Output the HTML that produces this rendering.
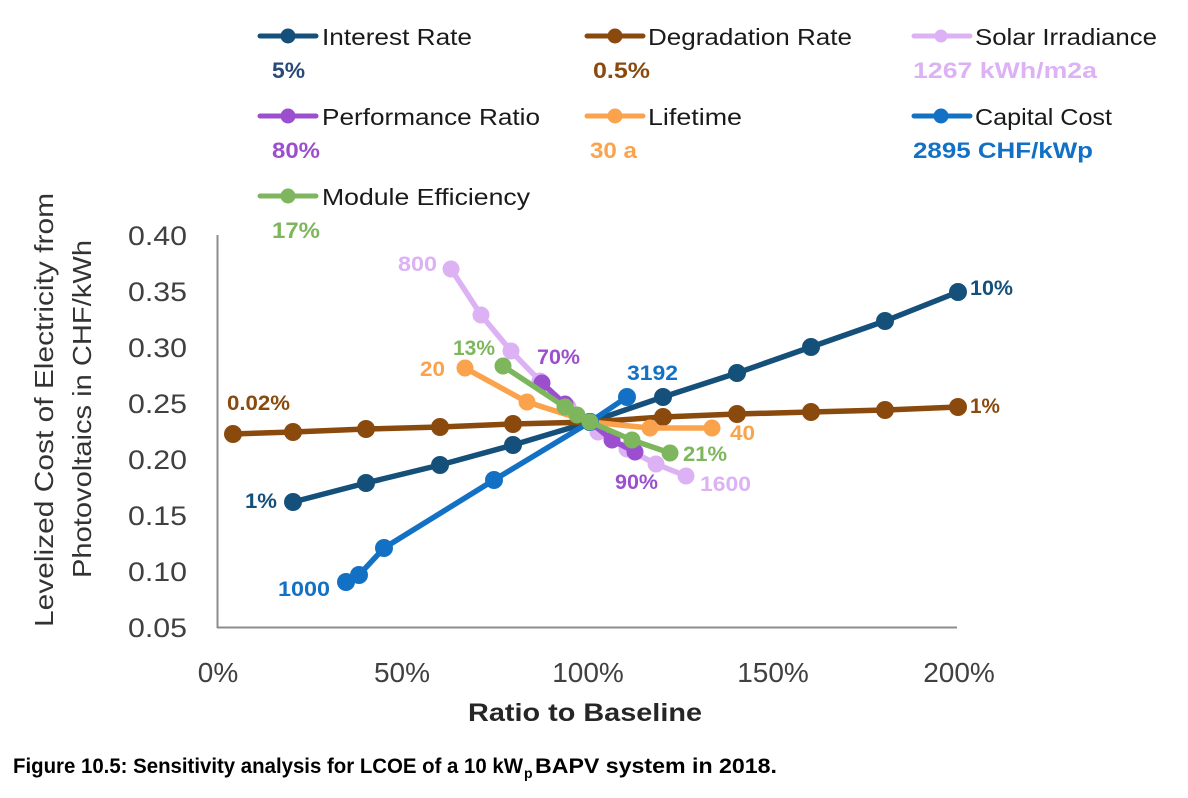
<!DOCTYPE html>
<html>
<head>
<meta charset="utf-8">
<style>
  html, body { margin: 0; padding: 0; background: #ffffff; }
  svg { display: block; }
  text { font-family: "Liberation Sans", "DejaVu Sans", sans-serif; }
  .leg { font-size: 23px; fill: #1a1a1a; }
  .val { font-size: 22px; font-weight: bold; }
  .lab { font-size: 21px; font-weight: bold; }
  .ytk { font-size: 27px; fill: #404040; }
  .xtk { font-size: 28px; fill: #404040; }
</style>
</head>
<body>
<svg width="1188" height="798" viewBox="0 0 1188 798" xmlns="http://www.w3.org/2000/svg">
  <rect x="0" y="0" width="1188" height="798" fill="#ffffff"/>

  <!-- Legend -->
  <g stroke-width="5" stroke-linecap="round">
    <line x1="260" y1="36" x2="316" y2="36" stroke="#15507a"/>
    <circle cx="288" cy="36" r="7.5" fill="#15507a" stroke="none"/>
    <line x1="587" y1="36" x2="643" y2="36" stroke="#8a4a0d"/>
    <circle cx="615" cy="36" r="7.5" fill="#8a4a0d" stroke="none"/>
    <line x1="914" y1="36" x2="970" y2="36" stroke="#dcb2f4"/>
    <circle cx="941" cy="36" r="6.5" fill="#dcb2f4" stroke="none"/>

    <line x1="260" y1="116" x2="316" y2="116" stroke="#9b4fcf"/>
    <circle cx="288" cy="116" r="7.5" fill="#9b4fcf" stroke="none"/>
    <line x1="587" y1="116" x2="643" y2="116" stroke="#fba24c"/>
    <circle cx="615" cy="116" r="7.5" fill="#fba24c" stroke="none"/>
    <line x1="914" y1="116" x2="970" y2="116" stroke="#1371c5"/>
    <circle cx="941" cy="116" r="7.5" fill="#1371c5" stroke="none"/>

    <line x1="260" y1="196" x2="316" y2="196" stroke="#7db65d"/>
    <circle cx="288" cy="196" r="7.5" fill="#7db65d" stroke="none"/>
  </g>

  <text class="leg" x="322" y="45" textLength="150" lengthAdjust="spacingAndGlyphs">Interest Rate</text>
  <text class="leg" x="648" y="45" textLength="204" lengthAdjust="spacingAndGlyphs">Degradation Rate</text>
  <text class="leg" x="975" y="45" textLength="182" lengthAdjust="spacingAndGlyphs">Solar Irradiance</text>
  <text class="leg" x="322" y="125" textLength="218" lengthAdjust="spacingAndGlyphs">Performance Ratio</text>
  <text class="leg" x="648" y="125" textLength="94" lengthAdjust="spacingAndGlyphs">Lifetime</text>
  <text class="leg" x="975" y="125" textLength="137" lengthAdjust="spacingAndGlyphs">Capital Cost</text>
  <text class="leg" x="322" y="205" textLength="208" lengthAdjust="spacingAndGlyphs">Module Efficiency</text>

  <text class="val" x="272" y="78" fill="#284a7a" textLength="33" lengthAdjust="spacingAndGlyphs">5%</text>
  <text class="val" x="593" y="78" fill="#8a4a0d" textLength="57" lengthAdjust="spacingAndGlyphs">0.5%</text>
  <text class="val" x="913" y="78" fill="#dcb2f4" textLength="184" lengthAdjust="spacingAndGlyphs">1267 kWh/m2a</text>
  <text class="val" x="272" y="158" fill="#9b4fcf" textLength="48" lengthAdjust="spacingAndGlyphs">80%</text>
  <text class="val" x="590" y="158" fill="#fba24c" textLength="47" lengthAdjust="spacingAndGlyphs">30 a</text>
  <text class="val" x="913" y="158" fill="#1371c5" textLength="180" lengthAdjust="spacingAndGlyphs">2895 CHF/kWp</text>
  <text class="val" x="272" y="238" fill="#7db65d" textLength="48" lengthAdjust="spacingAndGlyphs">17%</text>

  <!-- Axes -->
  <line x1="217.5" y1="235" x2="217.5" y2="628" stroke="#8c8c8c" stroke-width="2"/>
  <line x1="217" y1="627.5" x2="957" y2="627.5" stroke="#8c8c8c" stroke-width="2"/>

  <!-- Y tick labels -->
  <g class="ytk" text-anchor="end">
    <text x="187" y="245" textLength="59" lengthAdjust="spacingAndGlyphs">0.40</text>
    <text x="187" y="301" textLength="59" lengthAdjust="spacingAndGlyphs">0.35</text>
    <text x="187" y="357" textLength="59" lengthAdjust="spacingAndGlyphs">0.30</text>
    <text x="187" y="413" textLength="59" lengthAdjust="spacingAndGlyphs">0.25</text>
    <text x="187" y="469" textLength="59" lengthAdjust="spacingAndGlyphs">0.20</text>
    <text x="187" y="525" textLength="59" lengthAdjust="spacingAndGlyphs">0.15</text>
    <text x="187" y="581" textLength="59" lengthAdjust="spacingAndGlyphs">0.10</text>
    <text x="187" y="637" textLength="59" lengthAdjust="spacingAndGlyphs">0.05</text>
  </g>

  <!-- X tick labels -->
  <g class="xtk" text-anchor="middle">
    <text x="218" y="682">0%</text>
    <text x="402" y="682">50%</text>
    <text x="588" y="682">100%</text>
    <text x="773" y="682">150%</text>
    <text x="959" y="682">200%</text>
  </g>

  <!-- Axis titles -->
  <text x="585" y="721" text-anchor="middle" font-size="25" font-weight="bold" fill="#262626" textLength="234" lengthAdjust="spacingAndGlyphs">Ratio to Baseline</text>
  <text transform="translate(53,410) rotate(-90)" text-anchor="middle" font-size="26" fill="#333333" textLength="434" lengthAdjust="spacingAndGlyphs">Levelized Cost of Electricity from</text>
  <text transform="translate(91,409) rotate(-90)" text-anchor="middle" font-size="26" fill="#333333" textLength="338" lengthAdjust="spacingAndGlyphs">Photovoltaics in CHF/kWh</text>

  <!-- Series -->
  <!-- Interest Rate -->
  <g fill="#15507a">
    <polyline fill="none" stroke="#15507a" stroke-width="5.5" stroke-linejoin="round" points="293,502 366,483 440,465 513,445 590,422 663,397 737,373 811,347 885,321 958,292"/>
    <circle cx="293" cy="502" r="9"/><circle cx="366" cy="483" r="9"/><circle cx="440" cy="465" r="9"/>
    <circle cx="513" cy="445" r="9"/><circle cx="590" cy="422" r="9"/><circle cx="663" cy="397" r="9"/>
    <circle cx="737" cy="373" r="9"/><circle cx="811" cy="347" r="9"/><circle cx="885" cy="321" r="9"/>
    <circle cx="958" cy="292" r="9"/>
  </g>
  <!-- Degradation Rate -->
  <g fill="#8a4a0d">
    <polyline fill="none" stroke="#8a4a0d" stroke-width="5.5" stroke-linejoin="round" points="233,434 293,432 366,429 440,427 513,424 590,422 663,417 737,414 811,412 885,410 958,407"/>
    <circle cx="233" cy="434" r="9"/><circle cx="293" cy="432" r="9"/><circle cx="366" cy="429" r="9"/>
    <circle cx="440" cy="427" r="9"/><circle cx="513" cy="424" r="9"/><circle cx="590" cy="422" r="9"/>
    <circle cx="663" cy="417" r="9"/><circle cx="737" cy="414" r="9"/><circle cx="811" cy="412" r="9"/>
    <circle cx="885" cy="410" r="9"/><circle cx="958" cy="407" r="9"/>
  </g>
  <!-- Solar Irradiance -->
  <g fill="#dcb2f4">
    <polyline fill="none" stroke="#dcb2f4" stroke-width="5.5" stroke-linejoin="round" points="451,269 481,315 511,351 540,381 568,407 590,422 598,432 627,449 656,464 686,476"/>
    <circle cx="451" cy="269" r="8.5"/><circle cx="481" cy="315" r="8.5"/><circle cx="511" cy="351" r="8.5"/>
    <circle cx="540" cy="381" r="8.5"/><circle cx="568" cy="407" r="8.5"/><circle cx="590" cy="422" r="8.5"/>
    <circle cx="598" cy="432" r="8.5"/><circle cx="627" cy="449" r="8.5"/><circle cx="656" cy="464" r="8.5"/>
    <circle cx="686" cy="476" r="8.5"/>
  </g>
  <!-- Performance Ratio -->
  <g fill="#9b4fcf">
    <polyline fill="none" stroke="#9b4fcf" stroke-width="5.5" stroke-linejoin="round" points="542,383 565,404 590,422 612,440 635,452"/>
    <circle cx="542" cy="383" r="8.5"/><circle cx="565" cy="404" r="8.5"/><circle cx="590" cy="422" r="8.5"/>
    <circle cx="612" cy="440" r="8.5"/><circle cx="635" cy="452" r="8.5"/>
  </g>
  <!-- Lifetime -->
  <g fill="#fba24c">
    <polyline fill="none" stroke="#fba24c" stroke-width="5.5" stroke-linejoin="round" points="465,368 527,402 590,422 650,428 712,428"/>
    <circle cx="465" cy="368" r="8.5"/><circle cx="527" cy="402" r="8.5"/><circle cx="590" cy="422" r="8.5"/>
    <circle cx="650" cy="428" r="8.5"/><circle cx="712" cy="428" r="8.5"/>
  </g>
  <!-- Capital Cost -->
  <g fill="#1371c5">
    <polyline fill="none" stroke="#1371c5" stroke-width="5.5" stroke-linejoin="round" points="346,582 359,575 384,548 494,480 590,422 627,397"/>
    <circle cx="346" cy="582" r="9"/><circle cx="359" cy="575" r="9"/><circle cx="384" cy="548" r="9"/>
    <circle cx="494" cy="480" r="9"/><circle cx="590" cy="422" r="9"/><circle cx="627" cy="397" r="9"/>
  </g>
  <!-- Module Efficiency -->
  <g fill="#7db65d">
    <polyline fill="none" stroke="#7db65d" stroke-width="5.5" stroke-linejoin="round" points="503,366 565,407 577,415 590,422 632,440 670,453"/>
    <circle cx="503" cy="366" r="8.5"/><circle cx="565" cy="407" r="8.5"/><circle cx="577" cy="415" r="8.5"/>
    <circle cx="590" cy="422" r="8.5"/><circle cx="632" cy="440" r="8.5"/><circle cx="670" cy="453" r="8.5"/>
  </g>

  <!-- Data labels -->
  <text class="lab" x="227" y="410" fill="#8a4a0d" textLength="63" lengthAdjust="spacingAndGlyphs">0.02%</text>
  <text class="lab" x="970" y="413" fill="#8a4a0d" textLength="30" lengthAdjust="spacingAndGlyphs">1%</text>
  <text class="lab" x="245" y="508" fill="#15507a" textLength="32" lengthAdjust="spacingAndGlyphs">1%</text>
  <text class="lab" x="970" y="295" fill="#15507a" textLength="43" lengthAdjust="spacingAndGlyphs">10%</text>
  <text class="lab" x="398" y="271" fill="#dcb2f4" textLength="39" lengthAdjust="spacingAndGlyphs">800</text>
  <text class="lab" x="700" y="491" fill="#dcb2f4" textLength="51" lengthAdjust="spacingAndGlyphs">1600</text>
  <text class="lab" x="453" y="355" fill="#7db65d" textLength="42" lengthAdjust="spacingAndGlyphs">13%</text>
  <text class="lab" x="683" y="461" fill="#7db65d" textLength="44" lengthAdjust="spacingAndGlyphs">21%</text>
  <text class="lab" x="537" y="364" fill="#9b4fcf" textLength="43" lengthAdjust="spacingAndGlyphs">70%</text>
  <text class="lab" x="615" y="489" fill="#9b4fcf" textLength="43" lengthAdjust="spacingAndGlyphs">90%</text>
  <text class="lab" x="420" y="376" fill="#fba24c" textLength="25" lengthAdjust="spacingAndGlyphs">20</text>
  <text class="lab" x="730" y="440" fill="#fba24c" textLength="25" lengthAdjust="spacingAndGlyphs">40</text>
  <text class="lab" x="627" y="380" fill="#1371c5" textLength="51" lengthAdjust="spacingAndGlyphs">3192</text>
  <text class="lab" x="278" y="596" fill="#1371c5" textLength="52" lengthAdjust="spacingAndGlyphs">1000</text>

  <!-- Caption -->
  <text x="13" y="773" font-size="21" font-weight="bold" fill="#000000" textLength="510" lengthAdjust="spacingAndGlyphs">Figure 10.5: Sensitivity analysis for LCOE of a 10 kW</text>
  <text x="524" y="778" font-size="14" font-weight="bold" fill="#000000">p</text>
  <text x="535" y="773" font-size="21" font-weight="bold" fill="#000000" textLength="242" lengthAdjust="spacingAndGlyphs">BAPV system in 2018.</text>
</svg>
</body>
</html>
